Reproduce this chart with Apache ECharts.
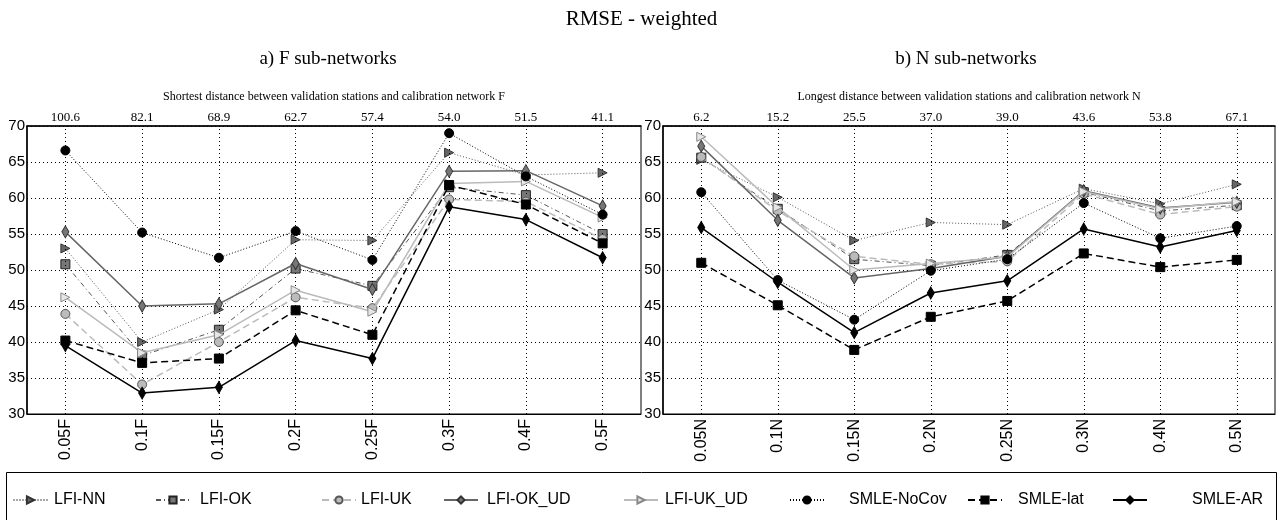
<!DOCTYPE html>
<html>
<head>
<meta charset="utf-8">
<script src="https://cdn.jsdelivr.net/npm/echarts@6/dist/echarts.min.js"></script>
<style>
html,body{margin:0;padding:0;background:#fff;}
#chart{width:1283px;height:520px;}
</style>
</head>
<body>
<div id="chart"></div>
<script>
const catsF = ['0.05F','0.1F','0.15F','0.2F','0.25F','0.3F','0.4F','0.5F'];
const catsN = ['0.05N','0.1N','0.15N','0.2N','0.25N','0.3N','0.4N','0.5N'];
const distF = ['100.6','82.1','68.9','62.7','57.4','54.0','51.5','41.1'];
const distN = ['6.2','15.2','25.5','37.0','39.0','43.6','53.8','67.1'];
const seriesNames = ['LFI-NN','LFI-OK','LFI-UK','LFI-OK_UD','LFI-UK_UD','SMLE-NoCov','SMLE-lat','SMLE-AR'];

const F_NN    = [53.0, 40.0, 44.5, 54.2, 54.1, 66.3, 63.2, 63.5];
const F_OK    = [50.8, 38.1, 41.7, 50.2, 47.8, 61.5, 60.4, 55.0];
const F_UK    = [43.9, 34.1, 40.0, 46.2, 44.7, 59.8, 59.5, 54.3];
const F_OK_UD = [55.3, 45.0, 45.3, 50.9, 47.3, 63.7, 63.8, 58.9];
const F_UK_UD = [46.2, 38.5, 41.0, 47.2, 44.2, 62.0, 62.3, 57.3];
const F_NoCov = [66.6, 55.2, 51.7, 55.4, 51.4, 69.0, 63.0, 57.7];
const F_lat   = [40.2, 37.1, 37.7, 44.4, 41.0, 61.8, 59.1, 53.7];
const F_AR    = [39.5, 32.9, 33.7, 40.2, 37.7, 58.8, 57.0, 51.7];

const N_NN    = [65.3, 60.1, 54.1, 56.6, 56.3, 61.3, 59.2, 61.9];
const N_OK    = [65.6, 58.5, 51.5, 50.6, 52.1, 60.8, 58.2, 59.0];
const N_UK    = [65.7, 58.2, 51.9, 50.8, 51.2, 60.6, 57.7, 58.8];
const N_OK_UD = [67.2, 56.9, 48.9, 50.2, 51.9, 61.0, 58.6, 59.4];
const N_UK_UD = [68.5, 58.7, 50.0, 50.9, 51.8, 60.9, 58.5, 59.5];
const N_NoCov = [60.8, 48.6, 43.1, 49.9, 51.5, 59.3, 54.4, 56.1];
const N_lat   = [51.0, 45.1, 38.9, 43.5, 45.7, 52.3, 50.4, 51.4];
const N_AR    = [55.9, 48.3, 41.3, 46.8, 48.5, 55.7, 53.2, 55.5];

const dataF = [F_NN, F_OK, F_UK, F_OK_UD, F_UK_UD, F_NoCov, F_lat, F_AR];
const dataN = [N_NN, N_OK, N_UK, N_OK_UD, N_UK_UD, N_NoCov, N_lat, N_AR];

const styles = [
  {line:'#555', lw:1, type:[1,2], sym:'triangle', rot:-90, size:9, fill:'#666', edge:'#333'},
  {line:'#555', lw:1, type:[5,3,1,3], sym:'rect', rot:0, size:9, fill:'#777', edge:'#222'},
  {line:'#bbb', lw:1.5, type:[7,4], sym:'circle', rot:0, size:9, fill:'#bbb', edge:'#555'},
  {line:'#666', lw:1.5, type:'solid', sym:'diamond', rot:0, size:[7,12], fill:'#777', edge:'#333'},
  {line:'#bbb', lw:1.5, type:'solid', sym:'triangle', rot:-90, size:9, fill:'#e6e6e6', edge:'#888'},
  {line:'#000', lw:1, type:[1,2], sym:'circle', rot:0, size:9, fill:'#000', edge:'#000'},
  {line:'#000', lw:1.5, type:[7,4], sym:'rect', rot:0, size:9, fill:'#000', edge:'#000'},
  {line:'#000', lw:1.5, type:'solid', sym:'diamond', rot:0, size:[7,12], fill:'#000', edge:'#000'}
];

const SERIF = 'Liberation Serif';
const SANS = 'Liberation Sans';

function mkSeries(gridIdx, cats, data) {
  return seriesNames.map((name, i) => {
    const s = styles[i];
    const o = {
      name: name,
      type: 'line',
      xAxisIndex: gridIdx * 2,
      yAxisIndex: gridIdx,
      data: data[i],
      symbol: s.sym,
      symbolRotate: s.rot,
      symbolSize: s.size,
      showAllSymbol: true,
      lineStyle: {color: s.line, width: s.lw, type: s.type},
      itemStyle: {color: s.fill, borderColor: s.edge, borderWidth: 1},
      emphasis: {disabled: true},
      animation: false,
      z: 3 + i
    };
    if (i === 0) {
      o.markLine = {
        silent: true,
        symbol: 'none',
        label: {show: false},
        lineStyle: {color: '#000', type: [1,3], width: 1},
        emphasis: {disabled: true},
        animation: false,
        data: cats.map(c => ({xAxis: c}))
      };
    }
    return o;
  });
}

const grids = [
  {left: 27, top: 126, width: 614, height: 288, show: true, borderColor: '#000', borderWidth: 1},
  {left: 663, top: 126, width: 612, height: 288, show: true, borderColor: '#000', borderWidth: 1}
];

function xAxes(gridIdx, cats, dist, nameTop) {
  return [
    {
      type: 'category', gridIndex: gridIdx, data: cats, position: 'bottom', boundaryGap: true,
      axisLine: {show: true, lineStyle: {color: '#000', width: 1}},
      axisTick: {show: false},
      splitLine: {show: false},
      axisLabel: {rotate: 90, fontFamily: SANS, fontSize: 16, color: '#000', margin: 5, interval: 0}
    },
    {
      type: 'category', gridIndex: gridIdx, data: dist, position: 'top', boundaryGap: true,
      axisLine: {show: true, lineStyle: {color: '#000', width: 1.5}},
      axisTick: {show: false},
      splitLine: {show: false},
      axisLabel: {fontFamily: SERIF, fontSize: 13, color: '#000', margin: 2, interval: 0},
      name: nameTop, nameLocation: 'middle', nameGap: 23,
      nameTextStyle: {fontFamily: SERIF, fontSize: 12, color: '#000'}
    }
  ];
}

function yAxis(gridIdx) {
  return {
    type: 'value', gridIndex: gridIdx, min: 30, max: 70, interval: 5,
    axisLine: {show: true, lineStyle: {color: '#000', width: 1.5}},
    axisTick: {show: false},
    splitLine: {show: true, lineStyle: {color: '#000', type: [1,3], width: 1}},
    axisLabel: {fontFamily: SANS, fontSize: 15, color: '#000', margin: 2}
  };
}

const legendText = [53, 199, 355, 486, 664, 848, 1017, 1191];
const legendMark = [24.5, 167, 333, 455, 635, 801, 979, 1124];
const legends = seriesNames.map((n, i) => ({
  data: [n],
  left: legendMark[i] - 17,
  top: 487,
  itemWidth: 34,
  itemHeight: 9,
  selectedMode: false,
  textStyle: {fontFamily: SANS, fontSize: 16, color: '#000', padding: [0, 0, 0, Math.max(0, legendText[i] - legendMark[i] - 27)]}
}));

const option = {
  backgroundColor: '#fff',
  animation: false,
  title: [
    {text: 'RMSE - weighted', left: 'center', top: 4, textStyle: {fontFamily: SERIF, fontSize: 21, fontWeight: 'normal', color: '#000'}},
    {text: 'a) F sub-networks', left: 323, top: 45, textAlign: 'center', textStyle: {fontFamily: SERIF, fontSize: 19, fontWeight: 'normal', color: '#000'}},
    {text: 'b) N sub-networks', left: 961, top: 45, textAlign: 'center', textStyle: {fontFamily: SERIF, fontSize: 19, fontWeight: 'normal', color: '#000'}}
  ],
  grid: grids,
  xAxis: [].concat(
    xAxes(0, catsF, distF, 'Shortest distance between validation stations and calibration network F'),
    xAxes(1, catsN, distN, 'Longest distance between validation stations and calibration network N')
  ),
  yAxis: [yAxis(0), yAxis(1)],
  legend: legends,
  graphic: [
    {type: 'rect', shape: {x: 6.5, y: 472.5, width: 1270, height: 60}, style: {fill: 'none', stroke: '#000', lineWidth: 1}, silent: true}
  ],
  series: [].concat(mkSeries(0, catsF, dataF), mkSeries(1, catsN, dataN))
};

const chart = echarts.init(document.getElementById('chart'), null, {renderer: 'canvas'});
chart.setOption(option);
</script>
</body>
</html>
